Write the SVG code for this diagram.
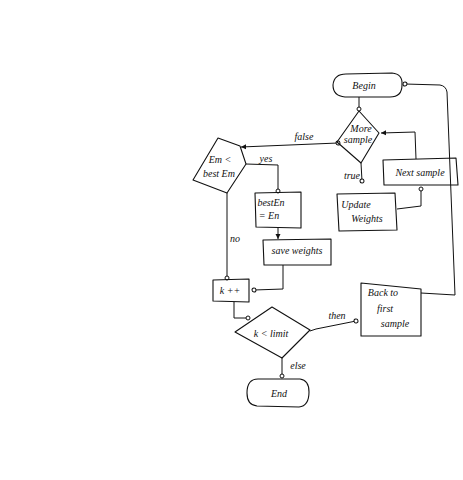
<svg xmlns="http://www.w3.org/2000/svg" width="463" height="480" viewBox="0 0 463 480">
  <style>
    .shape { fill: none; stroke: #111; stroke-width: 1.1; stroke-linejoin: round; }
    .wire { fill: none; stroke: #111; stroke-width: 1; stroke-linejoin: round; }
    text { font-family: "Liberation Serif", "DejaVu Serif", serif; font-style: italic; font-size: 10px; fill: #111; text-anchor: middle; }
    .lbl { font-size: 10px; }
  </style>
  <defs>
    <marker id="dot" viewBox="0 0 6 6" refX="3" refY="3" markerWidth="6" markerHeight="6" markerUnits="userSpaceOnUse" orient="auto">
      <circle cx="3" cy="3" r="2" fill="#fff" stroke="#111" stroke-width="1"/>
    </marker>
    <marker id="arrow" viewBox="0 0 8 8" refX="7" refY="4" markerWidth="6" markerHeight="6" markerUnits="userSpaceOnUse" orient="auto">
      <path d="M0,0.5 L7,4 L0,7.5 Z" fill="#111"/>
    </marker>
  </defs>

  <rect width="463" height="480" fill="#fff"/>

  <!-- connectors -->
  <g id="connectors">
    <path class="wire" d="M359,97 L359,109" marker-end="url(#dot)"/>
    <path class="wire" d="M338,143 L241,147" marker-start="url(#dot)" marker-end="url(#arrow)"/>
    <path class="wire" d="M361,163 L362,181" marker-end="url(#dot)"/>
    <path class="wire" d="M397,209 L421,206 L421,189" marker-end="url(#dot)"/>
    <path class="wire" d="M416,159 L415,132 L381,133" marker-end="url(#arrow)"/>
    <path class="wire" d="M246,164 L278,165 L278,191" marker-end="url(#dot)"/>
    <path class="wire" d="M278,228 L278,239" marker-end="url(#arrow)"/>
    <path class="wire" d="M227,193 L227,278" marker-end="url(#dot)"/>
    <path class="wire" d="M283,265 L283,289 L254,290" marker-end="url(#dot)"/>
    <path class="wire" d="M234,302 L234,318 L248,318" marker-end="url(#dot)"/>
    <path class="wire" d="M310,331 L316,329 L356,321" marker-end="url(#dot)"/>
    <path class="wire" d="M282,358 L282,376" marker-end="url(#dot)"/>
    <path class="wire" d="M421,293 L455,295 L447,92 Q446,86 440,85 L405,84" marker-end="url(#dot)"/>
  </g>

  <!-- labels -->
  <g id="labels">
    <text class="lbl" x="304" y="140" font-size="12">false</text>
    <text class="lbl" x="266" y="162">yes</text>
    <text class="lbl" x="352" y="179">true</text>
    <text class="lbl" x="235" y="242">no</text>
    <text class="lbl" x="337" y="319">then</text>
    <text class="lbl" x="298" y="369">else</text>
  </g>

  <!-- nodes -->
  <g id="begin">
    <path class="shape" d="M346,74 L392,73 Q403,74 402,85 Q402,97 390,97 L345,97 Q333,96 333,85 Q334,74 346,74 Z"/>
    <text x="364" y="89">Begin</text>
  </g>

  <g id="more-sample">
    <polygon class="shape" points="359,111 379,133 361,163 337,142"/>
    <text x="361" y="132">More</text>
    <text x="358" y="143">sample</text>
  </g>

  <g id="update-weights">
    <polygon class="shape" points="337,194 395,193 397,230 339,231"/>
    <text x="356" y="208">Update</text>
    <text x="367" y="222">Weights</text>
  </g>

  <g id="next-sample">
    <polygon class="shape" points="383,160 456,158 458,185 384,185"/>
    <text x="420" y="176">Next sample</text>
  </g>

  <g id="em-less-best">
    <polygon class="shape" points="218,138 240,146 246,164 227,193 193,180"/>
    <text x="220" y="163">Em &lt;</text>
    <text x="219" y="177" font-size="8">best Em</text>
  </g>

  <g id="best-en">
    <polygon class="shape" points="255,193 301,192 301,228 256,227"/>
    <text x="271" y="206">bestEn</text>
    <text x="269" y="219">= En</text>
  </g>

  <g id="save-weights">
    <polygon class="shape" points="263,240 331,239 331,265 264,265"/>
    <text x="297" y="254">save weights</text>
  </g>

  <g id="k-inc">
    <polygon class="shape" points="213,280 249,279 249,302 213,301"/>
    <text x="230" y="294">k ++</text>
  </g>

  <g id="k-limit">
    <polygon class="shape" points="272,307 310,330 282,358 235,332"/>
    <text x="271" y="337">k &lt; limit</text>
  </g>

  <g id="back-first">
    <polygon class="shape" points="361,283 421,289 421,336 361,336"/>
    <text x="383" y="296">Back to</text>
    <text x="385" y="312" font-size="11">first</text>
    <text x="395" y="327">sample</text>
  </g>

  <g id="end">
    <path class="shape" d="M258,379 L300,379 Q309,380 309,392 Q309,406 299,407 L257,406 Q247,405 247,393 Q247,379 258,379 Z"/>
    <text x="279" y="397">End</text>
  </g>
</svg>
